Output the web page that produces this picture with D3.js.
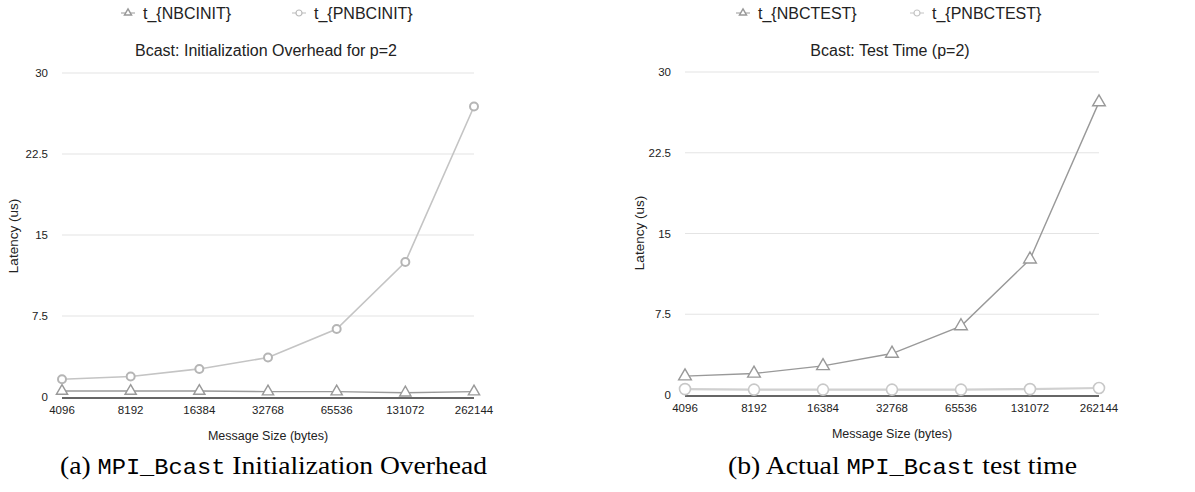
<!DOCTYPE html>
<html lang="en">
<head>
    <meta charset="UTF-8">
    <title>Bcast overhead</title>
    <style>
        body, html {
            margin: 0;
            padding: 0;
            background: #ffffff;
            font-family: 'Liberation Sans', Arial, sans-serif;
        }
        .grid line {
            stroke: #e4e4e4;
            stroke-width: 1.2px;
        }
        .tick-label {
            font-size: 11.5px;
            fill: #222;
        }
        .axis-title {
            font-size: 12.5px;
            fill: #222;
        }
        .y-title {
            font-size: 13.5px;
        }
        .chart-title {
            font-size: 16px;
            fill: #222;
        }
        .legend text {
            font-size: 16px;
            fill: #222;
        }
        .caption {
            font-family: 'Liberation Serif', 'DejaVu Serif', serif;
            font-size: 25px;
            fill: #000;
        }
        .caption .mono {
            font-family: 'Liberation Mono', 'DejaVu Sans Mono', monospace;
            font-size: 21.5px;
        }
    </style>
</head>
<body>
    <svg width="1195" height="492"></svg>

    <script src="https://d3js.org/d3.v7.min.js"></script>
    <script>
        // data
        const sizes = ["4096", "8192", "16384", "32768", "65536", "131072", "262144"];
        const yTicks = [0, 7.5, 15, 22.5, 30];

        const nbcInit = [0.55, 0.55, 0.55, 0.5, 0.5, 0.4, 0.5];
        const pnbcInit = [1.65, 1.9, 2.6, 3.65, 6.3, 12.5, 26.9];

        const nbcTest = [1.75, 2.0, 2.7, 3.85, 6.4, 12.6, 27.2];
        const pnbcTest = [0.55, 0.5, 0.5, 0.5, 0.5, 0.55, 0.65];

        const svg = d3.select("svg");

        function triangle(sel, size, stroke) {
            sel.append("path")
                .attr("d", d3.symbol().type(d3.symbolTriangle).size(size))
                .attr("fill", "#fff")
                .attr("stroke", stroke)
                .attr("stroke-width", 1.4);
        }

        function circle(sel, r, stroke, sw) {
            sel.append("circle")
                .attr("r", r)
                .attr("fill", "#fff")
                .attr("stroke", stroke)
                .attr("stroke-width", sw);
        }

        function drawChart(opt) {
            const g = svg.append("g");

            const x = d3.scalePoint().domain(sizes).range([opt.left, opt.right]);
            const y = d3.scaleLinear().domain([0, 30]).range([opt.bottom, opt.top]);

            // gridlines
            g.append("g").attr("class", "grid")
                .selectAll("line")
                .data(yTicks.filter(d => d > 0))
                .enter().append("line")
                .attr("x1", opt.left).attr("x2", opt.right)
                .attr("y1", d => y(d)).attr("y2", d => y(d));

            // y tick labels
            g.selectAll(".ytick")
                .data(yTicks)
                .enter().append("text")
                .attr("class", "tick-label")
                .attr("x", opt.left - 14)
                .attr("y", d => y(d) + 4)
                .attr("text-anchor", "end")
                .text(d => d);

            // x tick labels
            g.selectAll(".xtick")
                .data(sizes)
                .enter().append("text")
                .attr("class", "tick-label")
                .attr("x", d => x(d))
                .attr("y", opt.bottom + 17)
                .attr("text-anchor", "middle")
                .text(d => d);

            // axis titles
            g.append("text")
                .attr("class", "axis-title y-title")
                .attr("transform", `translate(${opt.yLabelX},${opt.yLabelY}) rotate(-90)`)
                .attr("text-anchor", "middle")
                .text("Latency (us)");

            g.append("text")
                .attr("class", "axis-title")
                .attr("x", (opt.left + opt.right) / 2)
                .attr("y", opt.bottom + 43)
                .attr("text-anchor", "middle")
                .text("Message Size (bytes)");

            // chart title
            g.append("text")
                .attr("class", "chart-title")
                .attr("x", (opt.left + opt.right) / 2 - 2)
                .attr("y", 56)
                .attr("text-anchor", "middle")
                .text(opt.title);

            const line = d3.line()
                .x((d, i) => x(sizes[i]))
                .y(d => y(d));

            // series
            opt.series.forEach(s => {
                g.append("path")
                    .datum(s.values)
                    .attr("fill", "none")
                    .attr("stroke", s.color)
                    .attr("stroke-width", s.width)
                    .attr("d", line);
            });

            // zero baseline
            g.append("line")
                .attr("x1", opt.left).attr("x2", opt.right)
                .attr("y1", y(0) + 1).attr("y2", y(0) + 1)
                .attr("stroke", "#333")
                .attr("stroke-width", 1.3);

            // markers
            opt.series.forEach(s => {
                const m = g.selectAll(null)
                    .data(s.values)
                    .enter().append("g")
                    .attr("transform", (d, i) => `translate(${x(sizes[i])},${y(d)})`);
                if (s.marker === "triangle") triangle(m, s.size, s.mcolor);
                else circle(m, s.size, s.mcolor, s.msw);
            });

            // legend
            const lg = svg.append("g").attr("class", "legend");
            opt.legend.forEach(l => {
                const item = lg.append("g").attr("transform", `translate(${l.x},13)`);
                item.append("line")
                    .attr("x1", -7).attr("x2", 7)
                    .attr("stroke", l.color).attr("stroke-width", 1);
                if (l.marker === "triangle") triangle(item, 22, l.color);
                else circle(item, 3, l.color, 1.2);
                item.append("text")
                    .attr("x", 15)
                    .attr("y", 6)
                    .text(l.label);
            });

            // caption
            const cap = svg.append("text")
                .attr("class", "caption")
                .attr("x", opt.capX)
                .attr("y", 474)
                .attr("textLength", opt.capW)
                .attr("lengthAdjust", "spacingAndGlyphs");
            opt.caption.forEach(part => {
                cap.append("tspan")
                    .attr("class", part.mono ? "mono" : null)
                    .text(part.t);
            });
        }

        drawChart({
            left: 62, right: 474, top: 73, bottom: 397,
            yLabelX: 18, yLabelY: 236,
            title: "Bcast: Initialization Overhead for p=2",
            series: [
                { values: nbcInit, color: "#999", width: 1.4, marker: "triangle", size: 55, mcolor: "#999" },
                { values: pnbcInit, color: "#c4c4c4", width: 1.6, marker: "circle", size: 4, mcolor: "#b5b5b5", msw: 2 }
            ],
            legend: [
                { x: 128, label: "t_{NBCINIT}", marker: "triangle", color: "#999" },
                { x: 299, label: "t_{PNBCINIT}", marker: "circle", color: "#bbb" }
            ],
            capX: 60, capW: 427,
            caption: [{ t: "(a) " }, { t: "MPI_Bcast", mono: true }, { t: " Initialization Overhead" }]
        });

        drawChart({
            left: 685, right: 1099, top: 72, bottom: 395,
            yLabelX: 644, yLabelY: 233,
            title: "Bcast: Test Time (p=2)",
            series: [
                { values: pnbcTest, color: "#d0d0d0", width: 2.2, marker: "circle", size: 5.5, mcolor: "#c8c8c8", msw: 1.6 },
                { values: nbcTest, color: "#999", width: 1.4, marker: "triangle", size: 70, mcolor: "#999" }
            ],
            legend: [
                { x: 743, label: "t_{NBCTEST}", marker: "triangle", color: "#999" },
                { x: 917, label: "t_{PNBCTEST}", marker: "circle", color: "#c4c4c4" }
            ],
            capX: 728, capW: 349,
            caption: [{ t: "(b) Actual " }, { t: "MPI_Bcast", mono: true }, { t: " test time" }]
        });
    </script>
</body>
</html>
